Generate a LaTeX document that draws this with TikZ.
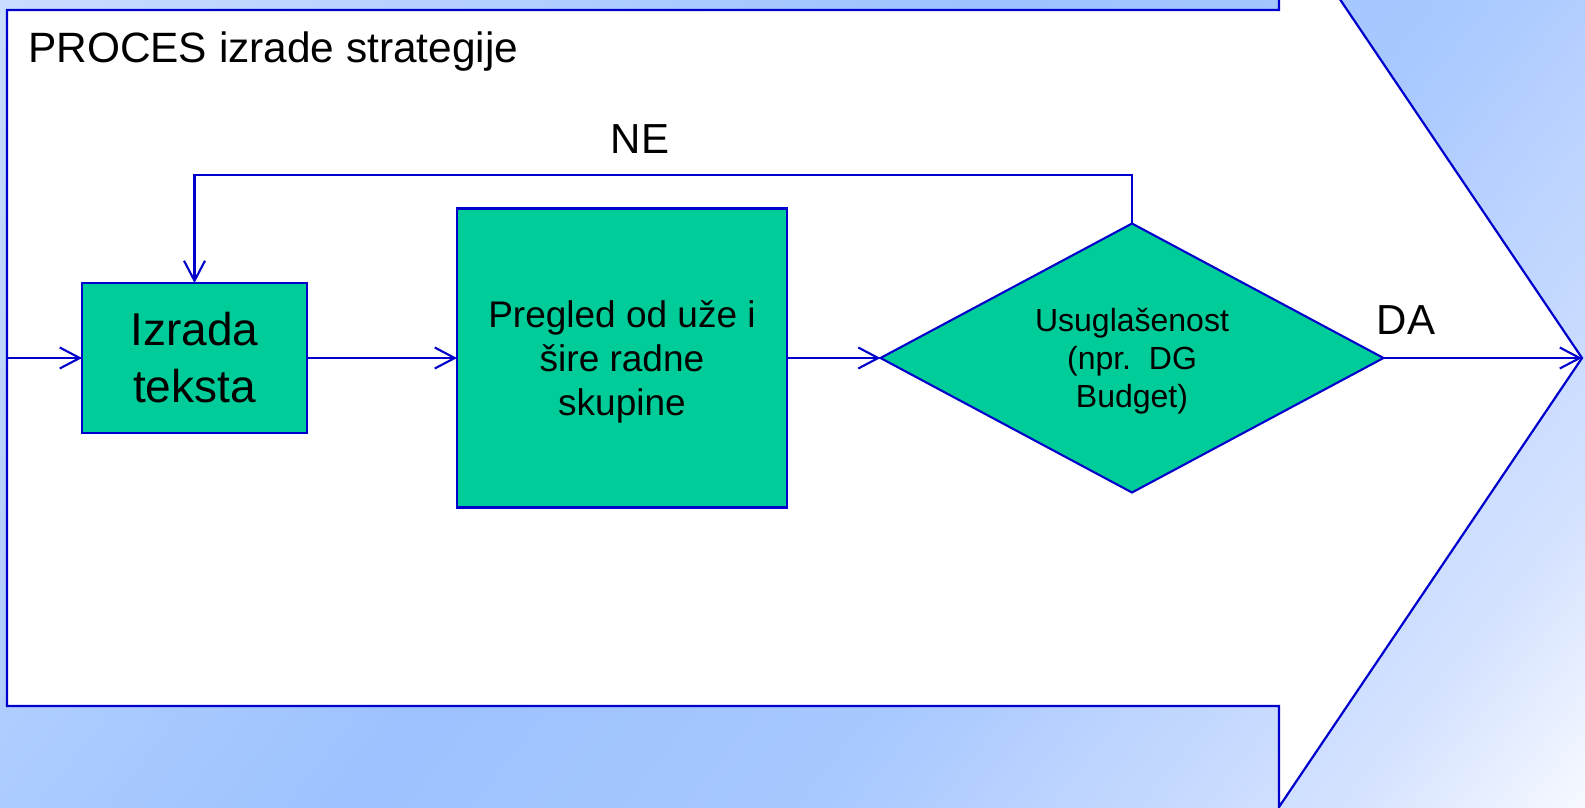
\documentclass[tikz,border=0pt]{standalone}
\usepackage{fontspec}
\setmainfont{Liberation Sans}
\usetikzlibrary{shapes.geometric,arrows.meta}
\definecolor{lnblue}{RGB}{0,0,204}
\definecolor{boxgreen}{RGB}{0,204,153}
\definecolor{bgA}{RGB}{202,220,255}
\definecolor{bgB}{RGB}{156,194,255}
\definecolor{bgC}{RGB}{168,200,255}
\definecolor{bgD}{RGB}{214,227,255}
\definecolor{bgE}{RGB}{245,248,255}
\pgfdeclarehorizontalshading{bgshade}{100bp}{color(0bp)=(bgA); color(15bp)=(bgA); color(46bp)=(bgB); color(61bp)=(bgC); color(78bp)=(bgD); color(85bp)=(bgE); color(100bp)=(bgE)}
\begin{document}
\begin{tikzpicture}[x=1pt,y=-1pt,
  conn/.style={draw=lnblue,line width=2.1pt,-{Straight Barb[length=20pt,width=21pt,line width=2.1pt]}},
  box/.style={draw=lnblue,fill=boxgreen,line width=2.1pt,inner sep=0pt,outer sep=0pt,align=center},
  lbl/.style={inner sep=0pt,font=\fontsize{42}{50}\selectfont}]
\useasboundingbox (0,0) rectangle (1585,807);
\clip (0,0) rectangle (1585,807);
\path[shading=bgshade,shading angle=-38.5] (0,0) rectangle (1585,807);
\draw[draw=lnblue,fill=white,line width=2.2pt,line join=miter] (7,10) -- (1279,10) -- (1279,-91) -- (1582,358) -- (1279,807) -- (1279,706) -- (7,706) -- cycle;
\node[lbl,anchor=base west,font=\fontsize{42.4}{50}\selectfont] (title) at (28,62) {PROCES izrade strategije};
\node[box,minimum width=225,minimum height=150,font=\fontsize{46}{57}\selectfont] (b1) at (194.5,358) {Izrada\\teksta};
\node[box,minimum width=330,minimum height=299,text depth=0pt,font=\fontsize{37}{44}\selectfont] (b2) at (622,358) {Pregled od uže i\\šire radne\\skupine};
\node[box,diamond,aspect=1.87,minimum width=503,minimum height=269,text depth=0pt,font=\fontsize{32}{38}\selectfont] (dia) at (1132,358) {Usuglašenost\\(npr.\ \ DG\\Budget)};
\coordinate (in) at (7,358);
\coordinate (tip) at (1582,358);
\coordinate (ne) at (640,175);
\draw[conn] (in) -- (b1.west);
\draw[conn] (b1.east) -- (b2.west);
\draw[conn] (b2.east) -- (dia.west);
\draw[conn] (dia.east) -- (tip);
\draw[conn] (dia.north) |- (ne) -| (b1.north);
\node[lbl] (nelbl) at (640,139) {NE};
\node[lbl] (dalbl) at (1406,320) {DA};
\end{tikzpicture}
\end{document}
